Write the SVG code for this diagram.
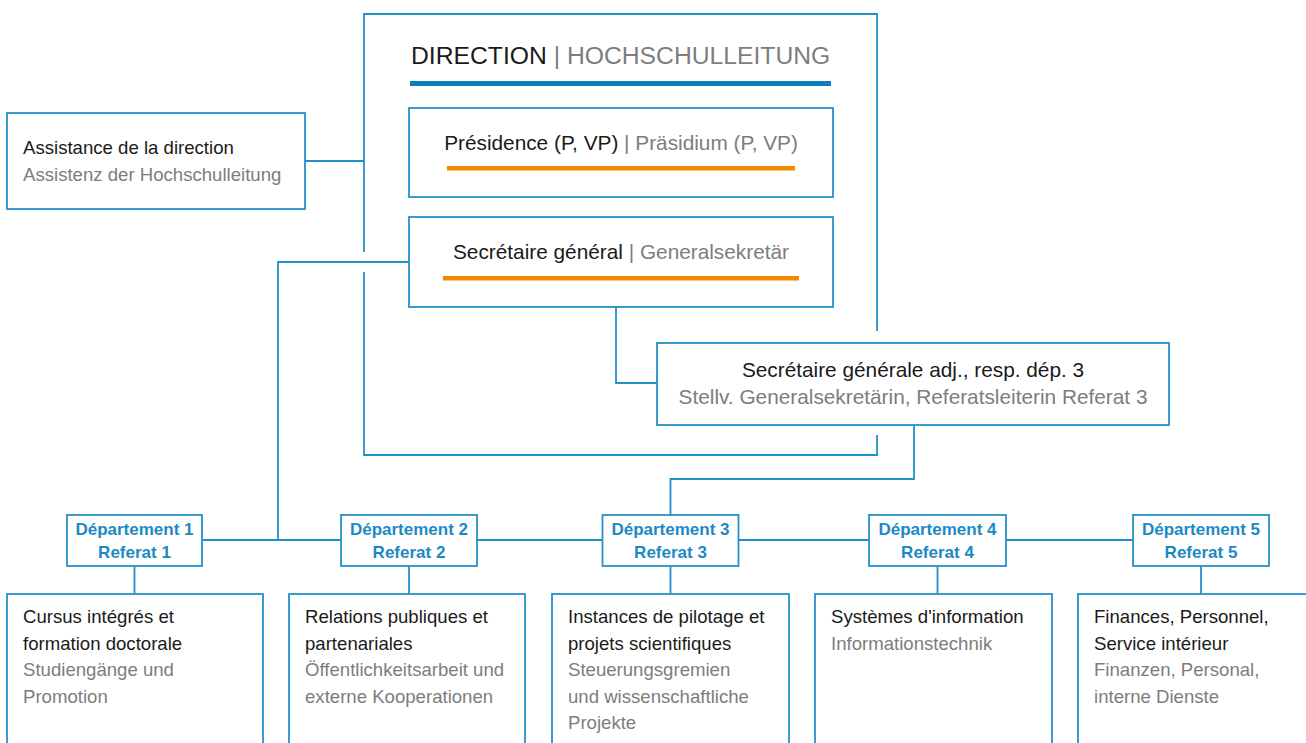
<svg xmlns="http://www.w3.org/2000/svg" width="1306" height="743" viewBox="0 0 1306 743">
<style>
.box{fill:#fff;stroke:#2490c8;stroke-width:1.8}
.ln{fill:none;stroke:#2490c8;stroke-width:1.8}
.t{font-family:"Liberation Sans",Arial,sans-serif;fill:#1a1a1a}
.g{fill:#7d7d7d}
.s18{font-size:18.6px}
.s20{font-size:20.8px}
.h{font-size:24.7px}
.dep{font-family:"Liberation Sans",Arial,sans-serif;font-weight:bold;font-size:17px;fill:#1d89c4;text-anchor:middle}
.or{fill:#f08a00}
</style>
<rect width="1306" height="743" fill="#fff"/>

<g id="connectors">
<path class="ln" d="M364,252 V14 H877 V331"/>
<path class="ln" d="M877,435 V455 H364 V272"/>
<path class="ln" d="M305,161 H364"/>
<path class="ln" d="M409,262 H278 V540"/>
<path class="ln" d="M616,307 V383 H657"/>
<path class="ln" d="M914,425 V479 H670.5 V515"/>
<path class="ln" d="M202,540 H341 M477,540 H602 M738,540 H869 M1006,540 H1133"/>
<path class="ln" d="M134.5,566 V594 M409,566 V594 M670.5,566 V594 M937.5,566 V594 M1201,566 V594"/>
</g>

<g id="direction">
<text class="t h" x="411" y="64">DIRECTION <tspan class="g">| HOCHSCHULLEITUNG</tspan></text>
<rect x="410" y="81" width="421" height="5" fill="#0b7fbe"/>
</g>

<g id="assistance">
<rect class="box" x="7" y="113" width="298" height="96"/>
<text class="t s18" x="23" y="154">Assistance de la direction</text>
<text class="t s18 g" x="23" y="181">Assistenz der Hochschulleitung</text>
</g>

<g id="presidence">
<rect class="box" x="409" y="108" width="424" height="89"/>
<text class="t s20" x="621" y="150" text-anchor="middle">Présidence (P, VP) <tspan class="g">| Präsidium (P, VP)</tspan></text>
<rect class="or" x="447" y="166" width="348" height="4.5"/>
</g>

<g id="secretaire-general">
<rect class="box" x="409" y="217" width="424" height="90"/>
<text class="t s20" x="621" y="259" text-anchor="middle">Secrétaire général <tspan class="g">| Generalsekretär</tspan></text>
<rect class="or" x="443" y="276" width="356" height="4.5"/>
</g>

<g id="secretaire-adj">
<rect class="box" x="657" y="343" width="512" height="82"/>
<text class="t s20" x="913" y="377" text-anchor="middle">Secrétaire générale adj., resp. dép. 3</text>
<text class="t s20 g" x="913" y="404" text-anchor="middle">Stellv. Generalsekretärin, Referatsleiterin Referat 3</text>
</g>

<g id="dep1">
<rect class="box" x="67" y="515" width="135" height="51"/>
<text class="dep" x="134.5" y="535">Département 1</text>
<text class="dep" x="134.5" y="558">Referat 1</text>
</g>
<g id="dep2">
<rect class="box" x="341" y="515" width="136" height="51"/>
<text class="dep" x="409" y="535">Département 2</text>
<text class="dep" x="409" y="558">Referat 2</text>
</g>
<g id="dep3">
<rect class="box" x="602.5" y="515" width="136" height="51"/>
<text class="dep" x="670.5" y="535">Département 3</text>
<text class="dep" x="670.5" y="558">Referat 3</text>
</g>
<g id="dep4">
<rect class="box" x="869" y="515" width="137" height="51"/>
<text class="dep" x="937.5" y="535">Département 4</text>
<text class="dep" x="937.5" y="558">Referat 4</text>
</g>
<g id="dep5">
<rect class="box" x="1133" y="515" width="136" height="51"/>
<text class="dep" x="1201" y="535">Département 5</text>
<text class="dep" x="1201" y="558">Referat 5</text>
</g>

<g id="box1">
<rect class="box" x="7" y="594" width="256" height="170"/>
<text class="t s18" x="23" y="623">Cursus intégrés et</text>
<text class="t s18" x="23" y="649.5">formation doctorale</text>
<text class="t s18 g" x="23" y="676">Studiengänge und</text>
<text class="t s18 g" x="23" y="702.5">Promotion</text>
</g>
<g id="box2">
<rect class="box" x="289" y="594" width="236" height="170"/>
<text class="t s18" x="305" y="623">Relations publiques et</text>
<text class="t s18" x="305" y="649.5">partenariales</text>
<text class="t s18 g" x="305" y="676">Öffentlichkeitsarbeit und</text>
<text class="t s18 g" x="305" y="702.5">externe Kooperationen</text>
</g>
<g id="box3">
<rect class="box" x="552" y="594" width="237" height="170"/>
<text class="t s18" x="568" y="623">Instances de pilotage et</text>
<text class="t s18" x="568" y="649.5">projets scientifiques</text>
<text class="t s18 g" x="568" y="676">Steuerungsgremien</text>
<text class="t s18 g" x="568" y="702.5">und wissenschaftliche</text>
<text class="t s18 g" x="568" y="729">Projekte</text>
</g>
<g id="box4">
<rect class="box" x="815" y="594" width="237" height="170"/>
<text class="t s18" x="831" y="623">Systèmes d'information</text>
<text class="t s18 g" x="831" y="649.5">Informationstechnik</text>
</g>
<g id="box5">
<rect class="box" x="1078" y="594" width="250" height="170"/>
<text class="t s18" x="1094" y="623">Finances, Personnel,</text>
<text class="t s18" x="1094" y="649.5">Service intérieur</text>
<text class="t s18 g" x="1094" y="676">Finanzen, Personal,</text>
<text class="t s18 g" x="1094" y="702.5">interne Dienste</text>
</g>
</svg>
